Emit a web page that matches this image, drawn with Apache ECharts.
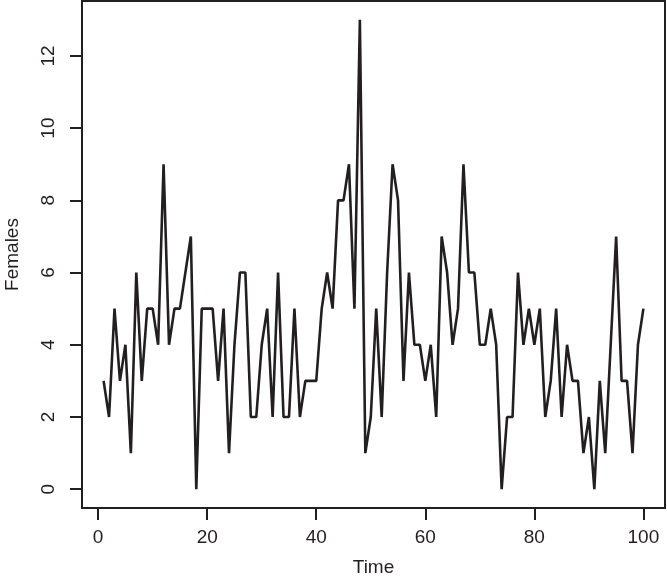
<!DOCTYPE html>
<html>
<head>
<meta charset="utf-8">
<script src="https://cdn.jsdelivr.net/npm/echarts@6/dist/echarts.min.js"></script>
<style>
  html, body { margin: 0; padding: 0; background: #fff; }
  #chart { width: 667px; height: 579px; }
</style>
</head>
<body>
<div id="chart"></div>
<script>
const time = [
  1, 2, 3, 4, 5, 6, 7, 8, 9, 10,
  11, 12, 13, 14, 15, 16, 17, 18, 19, 20,
  21, 22, 23, 24, 25, 26, 27, 28, 29, 30,
  31, 32, 33, 34, 35, 36, 37, 38, 39, 40,
  41, 42, 43, 44, 45, 46, 47, 48, 49, 50,
  51, 52, 53, 54, 55, 56, 57, 58, 59, 60,
  61, 62, 63, 64, 65, 66, 67, 68, 69, 70,
  71, 72, 73, 74, 75, 76, 77, 78, 79, 80,
  81, 82, 83, 84, 85, 86, 87, 88, 89, 90,
  91, 92, 93, 94, 95, 96, 97, 98, 99, 100
];
const females = [
  3, 2, 5, 3, 4, 1, 6, 3, 5, 5,
  4, 9, 4, 5, 5, 6, 7, 0, 5, 5,
  5, 3, 5, 1, 4, 6, 6, 2, 2, 4,
  5, 2, 6, 2, 2, 5, 2, 3, 3, 3,
  5, 6, 5, 8, 8, 9, 5, 13, 1, 2,
  5, 2, 6, 9, 8, 3, 6, 4, 4, 3,
  4, 2, 7, 6, 4, 5, 9, 6, 6, 4,
  4, 5, 4, 0, 2, 2, 6, 4, 5, 4,
  5, 2, 3, 5, 2, 4, 3, 3, 1, 2,
  0, 3, 1, 4, 7, 3, 3, 1, 4, 5
];
const xTicks = [0, 20, 40, 60, 80, 100];
const yTicks = [0, 2, 4, 6, 8, 10, 12];

const ink = "#231f20";
const font = "Liberation Sans, Arial, sans-serif";

const chart = echarts.init(document.getElementById("chart"));

// R pads the data range by 4% on each side
const option = {
  animation: false,
  backgroundColor: "#fff",
  grid: {
    left: 82,
    right: 2,
    top: 1,
    bottom: 71,
    containLabel: false,
    outerBoundsMode: "none",
    show: true,
    borderColor: ink,
    borderWidth: 2,
  },
  xAxis: {
    type: "value",
    min: -2.96,
    max: 103.96,
    name: "Time",
    nameLocation: "middle",
    nameGap: 50,
    nameTextStyle: { color: ink, fontSize: 19, fontFamily: font },
    axisLine: { show: true, onZero: false, lineStyle: { color: ink, width: 2 } },
    splitLine: { show: false },
    axisTick: {
      show: true,
      inside: false,
      customValues: xTicks,
      length: 12,
      lineStyle: { color: ink, width: 2 },
    },
    axisLabel: {
      customValues: xTicks,
      margin: 20,
      color: ink,
      fontSize: 19,
      fontFamily: font,
    },
  },
  yAxis: {
    type: "value",
    min: -0.52,
    max: 13.52,
    name: "Females",
    nameLocation: "middle",
    nameGap: 60,
    nameRotate: 90,
    nameTextStyle: { color: ink, fontSize: 19, fontFamily: font },
    axisLine: { show: true, onZero: false, lineStyle: { color: ink, width: 2 } },
    splitLine: { show: false },
    axisTick: {
      show: true,
      inside: false,
      customValues: yTicks,
      length: 12,
      lineStyle: { color: ink, width: 2 },
    },
    axisLabel: {
      customValues: yTicks,
      rotate: 90,
      margin: 24,
      color: ink,
      fontSize: 19,
      fontFamily: font,
    },
  },
  series: [
    {
      type: "line",
      data: time.map((t, i) => [t, females[i]]),
      symbol: "none",
      lineStyle: { color: ink, width: 2.6 },
    },
  ],
};

chart.setOption(option);
</script>
</body>
</html>
